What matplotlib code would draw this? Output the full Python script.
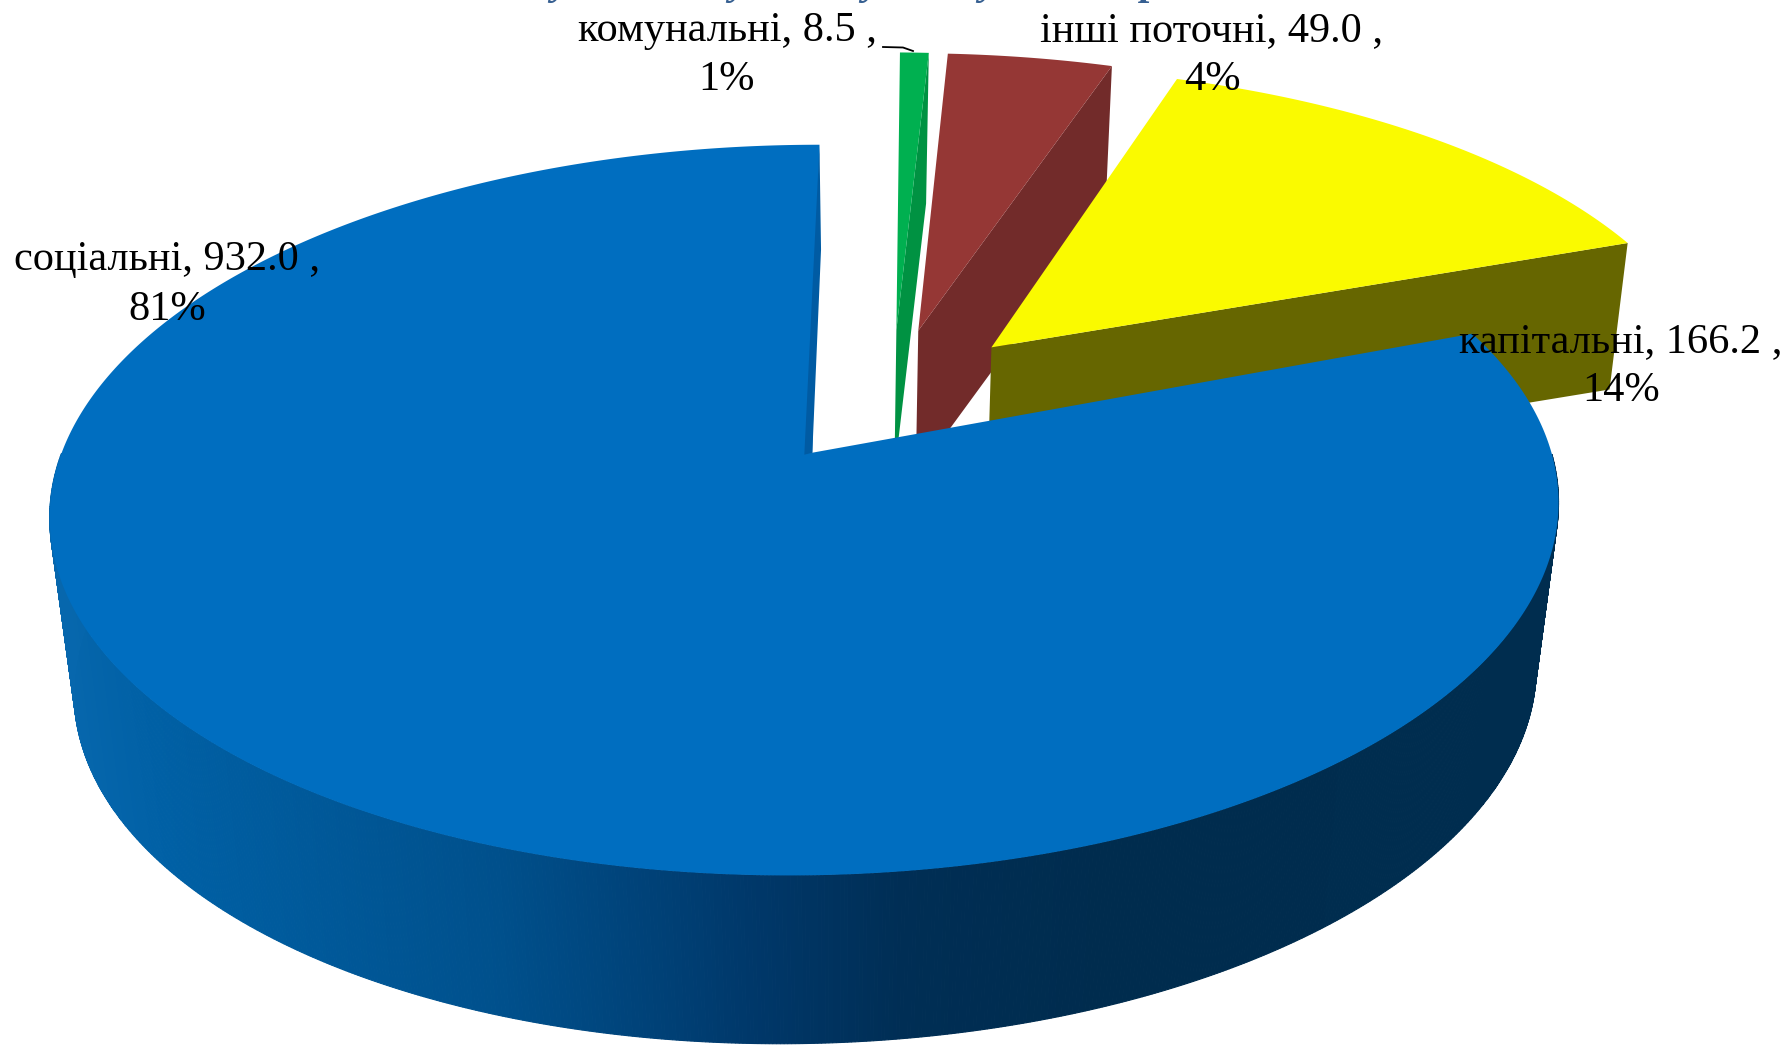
import numpy as np
import matplotlib
matplotlib.use("Agg")
import matplotlib.pyplot as plt
from matplotlib.colors import to_rgb

# data
names = ["комунальні", "інші поточні", "капітальні", "соціальні"]
values = [8.5, 49.0, 166.2, 932.0]
top_colors = ["#00B050", "#953735", "#FAFA00", "#006EC0"]
wall_colors = ["#009242", "#722B2A", "#666600", None]
label_centers = [727, 1212, 1621, 167]
label_baselines = [(41, 90), (41, 90), (352, 401), (270, 320)]
title_fragments = ["у", "у", "у", "у", "р"]
title_fragment_x = [560, 738, 871, 988, 1151]

# layout of the perspective projection (pixels)
W, H = 1791, 1045
EXPLODE = 0.2
C = (0.112, 0.165)
OX, OY = 814.0, 453.0
F, G, K, M, S, Q = 745.0, 356.4, 0.157, 0.009, 8.0, 3.0
VP = (805.0, 6900.0)
T_FAR = 0.022
SMALL_X_SCALE = 1.02
SMALL_X_NUDGE = -0.0035
SMALL_ROTATION = np.radians(0.7)
RIM = dict(cx0=804.0, cy0=510.0, cx1=805.0, cy1=680.0, sx=0.969, sy=0.995, tilt=-0.0065)
GRAD_X = [48, 160, 500, 750, 900, 1100, 1561]
GRAD_C = ["#0868AE", "#0060A5", "#00508C", "#00386A", "#002E55", "#002C4E", "#002D4F"]


def project(X, Y):
    w = 1 + K * Y + M * X
    return OX + (F * X + S * Y) / w, OY - (G * Y + Q * X) / w


def far_rim(x, y):
    return x + (VP[0] - x) * T_FAR, y + (VP[1] - y) * T_FAR


def blue_rim(x, y):
    r = RIM
    return (r["cx1"] + (x - r["cx0"]) * r["sx"],
            r["cy1"] + (y - r["cy0"]) * r["sy"] + r["tilt"] * (x - r["cx0"]))


def grad(x):
    rgb = np.array([to_rgb(c) for c in GRAD_C])
    return tuple(np.interp(x, GRAD_X, rgb[:, i]) for i in range(3))


total = sum(values)
fig = plt.figure(figsize=(W / 100, H / 100), dpi=100, facecolor="white")
ax = fig.add_axes([0, 0, 1, 1])
ax.set_xlim(0, W)
ax.set_ylim(H, 0)
ax.axis("off")

edges = np.cumsum([0] + values) / total * 360.0
geom = []
for i, v in enumerate(values):
    a0, a1 = np.radians(edges[i]), np.radians(edges[i + 1])
    mid = (a0 + a1) / 2
    small = i < 3
    ox = C[0] + EXPLODE * np.sin(mid) + (SMALL_X_NUDGE if small else 0.0)
    oy = C[1] + EXPLODE * np.cos(mid)
    rot = SMALL_ROTATION if small else 0.0
    th = np.linspace(a0 + rot, a1 + rot, max(4, int(np.degrees(a1 - a0) * 4)))
    sx = SMALL_X_SCALE if small else 1.0
    ax_x, ax_y = project(ox, oy)
    ex, ey = project(ox + sx * np.sin(th), oy + np.cos(th))
    geom.append(dict(ax=ax_x, ay=ax_y, ex=ex, ey=ey, th=th))

# the three small slices: side wall on the trailing edge, then top face
for z, i in enumerate([1, 0, 2]):
    g = geom[i]
    px, py = g["ex"][-1], g["ey"][-1]
    bx0, by0 = far_rim(g["ax"], g["ay"])
    bx1, by1 = far_rim(px, py)
    ax.fill([g["ax"], px, bx1, bx0], [g["ay"], py, by1, by0],
            color=wall_colors[i], lw=0, zorder=2 + z)
    ax.fill(np.r_[g["ax"], g["ex"]], np.r_[g["ay"], g["ey"]],
            color=top_colors[i], lw=0, zorder=2 + z)

# large slice: shaded outer wall (only its near side can be seen)
g = geom[3]
rx, ry = blue_rim(g["ex"], g["ey"])
for j in range(len(g["ex"]) - 1):
    if g["ey"][j] < OY or g["ey"][j + 1] < OY:
        continue
    xs = [g["ex"][j], g["ex"][j + 1], rx[j + 1], rx[j]]
    ys = [g["ey"][j], g["ey"][j + 1], ry[j + 1], ry[j]]
    c = grad(np.mean(xs))
    ax.fill(xs, ys, color=c, lw=0.8, ec=c, zorder=6)
ax.fill(np.r_[g["ax"], g["ex"]], np.r_[g["ay"], g["ey"]],
        color=top_colors[3], lw=0, zorder=7)
# thin inner wall beside the slice's closing edge
cx, cy = g["ex"][-1], g["ey"][-1]
ax.fill([g["ax"], g["ax"] - 8, cx, g["ax"] + (cx - g["ax"]) * 0.66 + 4],
        [g["ay"], g["ay"] + 2, cy, g["ay"] + (cy - g["ay"]) * 0.66],
        color="#005BA3", lw=0, zorder=8)

# labels
serif = "Liberation Serif"
for n, v, cxp, (b0, b1) in zip(names, values, label_centers, label_baselines):
    ax.text(cxp, b0, f"{n}, {v:.1f} ,", ha="center", va="baseline",
            family=serif, fontsize=30.5, color="black", zorder=20)
    ax.text(cxp, b1, f"{v / total * 100:.0f}%", ha="center", va="baseline",
            family=serif, fontsize=30.5, color="black", zorder=20)
ax.plot([883, 903, 913], [47, 47.5, 51], color="black", lw=1.3, zorder=20)

# the title is cut off by the picture's top edge: only its descenders remain
for ch, x in zip(title_fragments, title_fragment_x):
    ax.text(x, -6, ch, ha="center", va="baseline", family=serif, fontsize=30,
            weight="bold", style="italic", color="#365F91", zorder=20)

fig.savefig("out.png", dpi=100, facecolor="white")
